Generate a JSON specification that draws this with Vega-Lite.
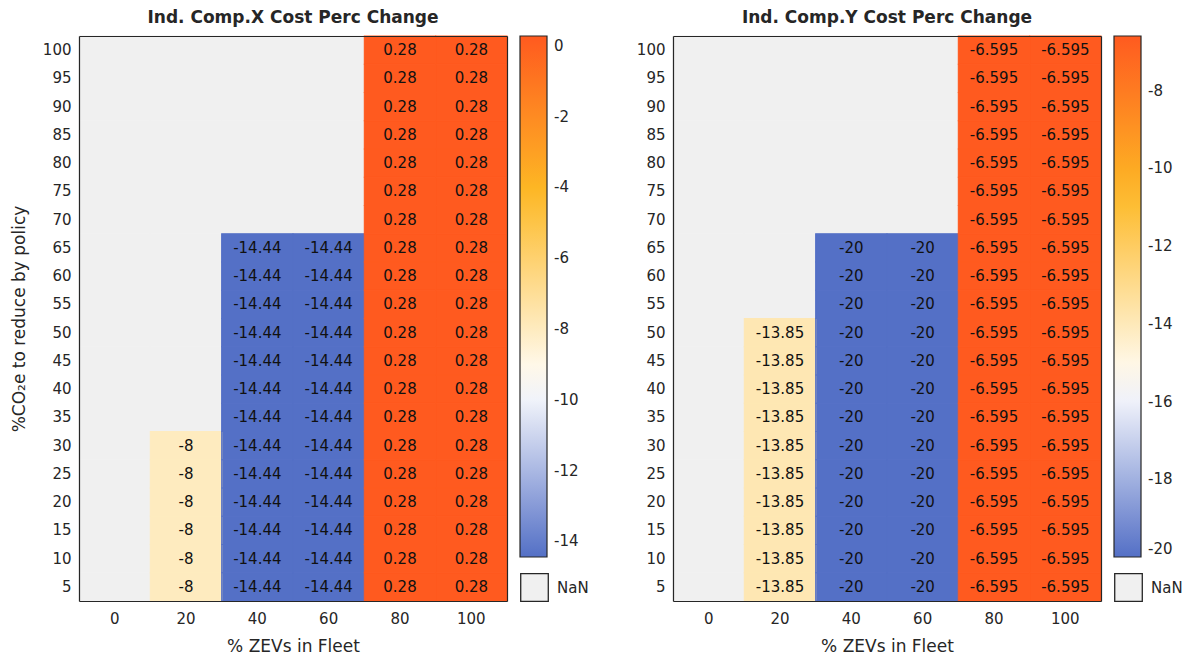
{
  "$schema": "https://vega.github.io/schema/vega-lite/v6.json",
  "padding": {"left": 10, "top": 9, "right": 0, "bottom": 0},
  "background": "white",
  "config": {
    "font": "DejaVu Sans",
    "view": {"stroke": null},
    "axis": {"labelFont": "DejaVu Sans", "labelFontSize": 15, "labelColor": "#262626", "ticks": false, "grid": false, "titleFont": "DejaVu Sans", "titleFontSize": 17, "titleFontWeight": "normal", "titleColor": "#262626"},
    "title": {"font": "DejaVu Sans", "fontSize": 17, "fontWeight": "bold", "color": "#262626", "offset": 8},
    "legend": {"labelFont": "DejaVu Sans", "labelFontSize": 15, "labelColor": "#262626", "padding": 0}
  },
  "datasets": {
    "cells": [
      {"p":"X","x":0,"y":5,"v":null},{"p":"X","x":0,"y":10,"v":null},{"p":"X","x":0,"y":15,"v":null},{"p":"X","x":0,"y":20,"v":null},{"p":"X","x":0,"y":25,"v":null},{"p":"X","x":0,"y":30,"v":null},{"p":"X","x":0,"y":35,"v":null},{"p":"X","x":0,"y":40,"v":null},{"p":"X","x":0,"y":45,"v":null},{"p":"X","x":0,"y":50,"v":null},{"p":"X","x":0,"y":55,"v":null},{"p":"X","x":0,"y":60,"v":null},{"p":"X","x":0,"y":65,"v":null},{"p":"X","x":0,"y":70,"v":null},{"p":"X","x":0,"y":75,"v":null},{"p":"X","x":0,"y":80,"v":null},{"p":"X","x":0,"y":85,"v":null},{"p":"X","x":0,"y":90,"v":null},{"p":"X","x":0,"y":95,"v":null},{"p":"X","x":0,"y":100,"v":null},
      {"p":"X","x":20,"y":5,"v":-8},{"p":"X","x":20,"y":10,"v":-8},{"p":"X","x":20,"y":15,"v":-8},{"p":"X","x":20,"y":20,"v":-8},{"p":"X","x":20,"y":25,"v":-8},{"p":"X","x":20,"y":30,"v":-8},{"p":"X","x":20,"y":35,"v":null},{"p":"X","x":20,"y":40,"v":null},{"p":"X","x":20,"y":45,"v":null},{"p":"X","x":20,"y":50,"v":null},{"p":"X","x":20,"y":55,"v":null},{"p":"X","x":20,"y":60,"v":null},{"p":"X","x":20,"y":65,"v":null},{"p":"X","x":20,"y":70,"v":null},{"p":"X","x":20,"y":75,"v":null},{"p":"X","x":20,"y":80,"v":null},{"p":"X","x":20,"y":85,"v":null},{"p":"X","x":20,"y":90,"v":null},{"p":"X","x":20,"y":95,"v":null},{"p":"X","x":20,"y":100,"v":null},
      {"p":"X","x":40,"y":5,"v":-14.44},{"p":"X","x":40,"y":10,"v":-14.44},{"p":"X","x":40,"y":15,"v":-14.44},{"p":"X","x":40,"y":20,"v":-14.44},{"p":"X","x":40,"y":25,"v":-14.44},{"p":"X","x":40,"y":30,"v":-14.44},{"p":"X","x":40,"y":35,"v":-14.44},{"p":"X","x":40,"y":40,"v":-14.44},{"p":"X","x":40,"y":45,"v":-14.44},{"p":"X","x":40,"y":50,"v":-14.44},{"p":"X","x":40,"y":55,"v":-14.44},{"p":"X","x":40,"y":60,"v":-14.44},{"p":"X","x":40,"y":65,"v":-14.44},{"p":"X","x":40,"y":70,"v":null},{"p":"X","x":40,"y":75,"v":null},{"p":"X","x":40,"y":80,"v":null},{"p":"X","x":40,"y":85,"v":null},{"p":"X","x":40,"y":90,"v":null},{"p":"X","x":40,"y":95,"v":null},{"p":"X","x":40,"y":100,"v":null},
      {"p":"X","x":60,"y":5,"v":-14.44},{"p":"X","x":60,"y":10,"v":-14.44},{"p":"X","x":60,"y":15,"v":-14.44},{"p":"X","x":60,"y":20,"v":-14.44},{"p":"X","x":60,"y":25,"v":-14.44},{"p":"X","x":60,"y":30,"v":-14.44},{"p":"X","x":60,"y":35,"v":-14.44},{"p":"X","x":60,"y":40,"v":-14.44},{"p":"X","x":60,"y":45,"v":-14.44},{"p":"X","x":60,"y":50,"v":-14.44},{"p":"X","x":60,"y":55,"v":-14.44},{"p":"X","x":60,"y":60,"v":-14.44},{"p":"X","x":60,"y":65,"v":-14.44},{"p":"X","x":60,"y":70,"v":null},{"p":"X","x":60,"y":75,"v":null},{"p":"X","x":60,"y":80,"v":null},{"p":"X","x":60,"y":85,"v":null},{"p":"X","x":60,"y":90,"v":null},{"p":"X","x":60,"y":95,"v":null},{"p":"X","x":60,"y":100,"v":null},
      {"p":"X","x":80,"y":5,"v":0.28},{"p":"X","x":80,"y":10,"v":0.28},{"p":"X","x":80,"y":15,"v":0.28},{"p":"X","x":80,"y":20,"v":0.28},{"p":"X","x":80,"y":25,"v":0.28},{"p":"X","x":80,"y":30,"v":0.28},{"p":"X","x":80,"y":35,"v":0.28},{"p":"X","x":80,"y":40,"v":0.28},{"p":"X","x":80,"y":45,"v":0.28},{"p":"X","x":80,"y":50,"v":0.28},{"p":"X","x":80,"y":55,"v":0.28},{"p":"X","x":80,"y":60,"v":0.28},{"p":"X","x":80,"y":65,"v":0.28},{"p":"X","x":80,"y":70,"v":0.28},{"p":"X","x":80,"y":75,"v":0.28},{"p":"X","x":80,"y":80,"v":0.28},{"p":"X","x":80,"y":85,"v":0.28},{"p":"X","x":80,"y":90,"v":0.28},{"p":"X","x":80,"y":95,"v":0.28},{"p":"X","x":80,"y":100,"v":0.28},
      {"p":"X","x":100,"y":5,"v":0.28},{"p":"X","x":100,"y":10,"v":0.28},{"p":"X","x":100,"y":15,"v":0.28},{"p":"X","x":100,"y":20,"v":0.28},{"p":"X","x":100,"y":25,"v":0.28},{"p":"X","x":100,"y":30,"v":0.28},{"p":"X","x":100,"y":35,"v":0.28},{"p":"X","x":100,"y":40,"v":0.28},{"p":"X","x":100,"y":45,"v":0.28},{"p":"X","x":100,"y":50,"v":0.28},{"p":"X","x":100,"y":55,"v":0.28},{"p":"X","x":100,"y":60,"v":0.28},{"p":"X","x":100,"y":65,"v":0.28},{"p":"X","x":100,"y":70,"v":0.28},{"p":"X","x":100,"y":75,"v":0.28},{"p":"X","x":100,"y":80,"v":0.28},{"p":"X","x":100,"y":85,"v":0.28},{"p":"X","x":100,"y":90,"v":0.28},{"p":"X","x":100,"y":95,"v":0.28},{"p":"X","x":100,"y":100,"v":0.28},
      {"p":"Y","x":0,"y":5,"v":null},{"p":"Y","x":0,"y":10,"v":null},{"p":"Y","x":0,"y":15,"v":null},{"p":"Y","x":0,"y":20,"v":null},{"p":"Y","x":0,"y":25,"v":null},{"p":"Y","x":0,"y":30,"v":null},{"p":"Y","x":0,"y":35,"v":null},{"p":"Y","x":0,"y":40,"v":null},{"p":"Y","x":0,"y":45,"v":null},{"p":"Y","x":0,"y":50,"v":null},{"p":"Y","x":0,"y":55,"v":null},{"p":"Y","x":0,"y":60,"v":null},{"p":"Y","x":0,"y":65,"v":null},{"p":"Y","x":0,"y":70,"v":null},{"p":"Y","x":0,"y":75,"v":null},{"p":"Y","x":0,"y":80,"v":null},{"p":"Y","x":0,"y":85,"v":null},{"p":"Y","x":0,"y":90,"v":null},{"p":"Y","x":0,"y":95,"v":null},{"p":"Y","x":0,"y":100,"v":null},
      {"p":"Y","x":20,"y":5,"v":-13.85},{"p":"Y","x":20,"y":10,"v":-13.85},{"p":"Y","x":20,"y":15,"v":-13.85},{"p":"Y","x":20,"y":20,"v":-13.85},{"p":"Y","x":20,"y":25,"v":-13.85},{"p":"Y","x":20,"y":30,"v":-13.85},{"p":"Y","x":20,"y":35,"v":-13.85},{"p":"Y","x":20,"y":40,"v":-13.85},{"p":"Y","x":20,"y":45,"v":-13.85},{"p":"Y","x":20,"y":50,"v":-13.85},{"p":"Y","x":20,"y":55,"v":null},{"p":"Y","x":20,"y":60,"v":null},{"p":"Y","x":20,"y":65,"v":null},{"p":"Y","x":20,"y":70,"v":null},{"p":"Y","x":20,"y":75,"v":null},{"p":"Y","x":20,"y":80,"v":null},{"p":"Y","x":20,"y":85,"v":null},{"p":"Y","x":20,"y":90,"v":null},{"p":"Y","x":20,"y":95,"v":null},{"p":"Y","x":20,"y":100,"v":null},
      {"p":"Y","x":40,"y":5,"v":-20},{"p":"Y","x":40,"y":10,"v":-20},{"p":"Y","x":40,"y":15,"v":-20},{"p":"Y","x":40,"y":20,"v":-20},{"p":"Y","x":40,"y":25,"v":-20},{"p":"Y","x":40,"y":30,"v":-20},{"p":"Y","x":40,"y":35,"v":-20},{"p":"Y","x":40,"y":40,"v":-20},{"p":"Y","x":40,"y":45,"v":-20},{"p":"Y","x":40,"y":50,"v":-20},{"p":"Y","x":40,"y":55,"v":-20},{"p":"Y","x":40,"y":60,"v":-20},{"p":"Y","x":40,"y":65,"v":-20},{"p":"Y","x":40,"y":70,"v":null},{"p":"Y","x":40,"y":75,"v":null},{"p":"Y","x":40,"y":80,"v":null},{"p":"Y","x":40,"y":85,"v":null},{"p":"Y","x":40,"y":90,"v":null},{"p":"Y","x":40,"y":95,"v":null},{"p":"Y","x":40,"y":100,"v":null},
      {"p":"Y","x":60,"y":5,"v":-20},{"p":"Y","x":60,"y":10,"v":-20},{"p":"Y","x":60,"y":15,"v":-20},{"p":"Y","x":60,"y":20,"v":-20},{"p":"Y","x":60,"y":25,"v":-20},{"p":"Y","x":60,"y":30,"v":-20},{"p":"Y","x":60,"y":35,"v":-20},{"p":"Y","x":60,"y":40,"v":-20},{"p":"Y","x":60,"y":45,"v":-20},{"p":"Y","x":60,"y":50,"v":-20},{"p":"Y","x":60,"y":55,"v":-20},{"p":"Y","x":60,"y":60,"v":-20},{"p":"Y","x":60,"y":65,"v":-20},{"p":"Y","x":60,"y":70,"v":null},{"p":"Y","x":60,"y":75,"v":null},{"p":"Y","x":60,"y":80,"v":null},{"p":"Y","x":60,"y":85,"v":null},{"p":"Y","x":60,"y":90,"v":null},{"p":"Y","x":60,"y":95,"v":null},{"p":"Y","x":60,"y":100,"v":null},
      {"p":"Y","x":80,"y":5,"v":-6.595},{"p":"Y","x":80,"y":10,"v":-6.595},{"p":"Y","x":80,"y":15,"v":-6.595},{"p":"Y","x":80,"y":20,"v":-6.595},{"p":"Y","x":80,"y":25,"v":-6.595},{"p":"Y","x":80,"y":30,"v":-6.595},{"p":"Y","x":80,"y":35,"v":-6.595},{"p":"Y","x":80,"y":40,"v":-6.595},{"p":"Y","x":80,"y":45,"v":-6.595},{"p":"Y","x":80,"y":50,"v":-6.595},{"p":"Y","x":80,"y":55,"v":-6.595},{"p":"Y","x":80,"y":60,"v":-6.595},{"p":"Y","x":80,"y":65,"v":-6.595},{"p":"Y","x":80,"y":70,"v":-6.595},{"p":"Y","x":80,"y":75,"v":-6.595},{"p":"Y","x":80,"y":80,"v":-6.595},{"p":"Y","x":80,"y":85,"v":-6.595},{"p":"Y","x":80,"y":90,"v":-6.595},{"p":"Y","x":80,"y":95,"v":-6.595},{"p":"Y","x":80,"y":100,"v":-6.595},
      {"p":"Y","x":100,"y":5,"v":-6.595},{"p":"Y","x":100,"y":10,"v":-6.595},{"p":"Y","x":100,"y":15,"v":-6.595},{"p":"Y","x":100,"y":20,"v":-6.595},{"p":"Y","x":100,"y":25,"v":-6.595},{"p":"Y","x":100,"y":30,"v":-6.595},{"p":"Y","x":100,"y":35,"v":-6.595},{"p":"Y","x":100,"y":40,"v":-6.595},{"p":"Y","x":100,"y":45,"v":-6.595},{"p":"Y","x":100,"y":50,"v":-6.595},{"p":"Y","x":100,"y":55,"v":-6.595},{"p":"Y","x":100,"y":60,"v":-6.595},{"p":"Y","x":100,"y":65,"v":-6.595},{"p":"Y","x":100,"y":70,"v":-6.595},{"p":"Y","x":100,"y":75,"v":-6.595},{"p":"Y","x":100,"y":80,"v":-6.595},{"p":"Y","x":100,"y":85,"v":-6.595},{"p":"Y","x":100,"y":90,"v":-6.595},{"p":"Y","x":100,"y":95,"v":-6.595},{"p":"Y","x":100,"y":100,"v":-6.595}
    ]
  },
  "spacing": 47,
  "resolve": {"scale": {"color": "independent", "fill": "independent", "stroke": "independent", "x": "independent", "y": "independent"}, "legend": {"color": "independent", "fill": "independent"}},
  "hconcat": [
    {
      "title": "Ind. Comp.X Cost Perc Change",
      "width": 428,
      "height": 565,
      "data": {"name": "cells"},
      "transform": [{"filter": "datum.p === 'X'"}],
      "layer": [
        {
          "transform": [{"filter": "datum.v === null"}],
          "mark": {"type": "rect", "stroke": "#f0f0f0", "strokeWidth": 1},
          "encoding": {
            "x": {"field": "x", "type": "ordinal", "sort": "ascending", "scale": {"paddingInner": 0, "paddingOuter": 0}, "axis": {"orient": "bottom", "title": "% ZEVs in Fleet", "labelAngle": 0, "labelPadding": 10, "titlePadding": 12, "domain": true, "domainColor": "#262626", "domainWidth": 1.2, "zindex": 2}},
            "y": {"field": "y", "type": "ordinal", "sort": "descending", "scale": {"paddingInner": 0, "paddingOuter": 0}, "axis": {"orient": "left", "title": "%CO₂e to reduce by policy", "labelPadding": 8, "titlePadding": 14, "domain": true, "domainColor": "#262626", "domainWidth": 1.2, "zindex": 2}},
            "fill": {"datum": "NaN", "type": "nominal", "scale": {"range": ["#f0f0f0"]}, "legend": {"title": null, "orient": "none", "legendX": 441, "legendY": 537, "symbolType": "square", "symbolSize": 760, "symbolStrokeColor": "#262626", "symbolStrokeWidth": 1.3, "labelOffset": 8}}
          }
        },
        {
          "transform": [{"filter": "isValid(datum.v)"}],
          "mark": {"type": "rect"},
          "encoding": {
            "x": {"field": "x", "type": "ordinal", "sort": "ascending", "axis": null},
            "y": {"field": "y", "type": "ordinal", "sort": "descending", "axis": null},
            "color": {"field": "v", "type": "quantitative",
              "scale": {"domain": [-14.44, -9.58, -4.14, 0.28], "range": ["#5470c6", "#ffffff", "#fdb924", "#ff5a1f"], "interpolate": "rgb"},
              "legend": {"type": "gradient", "direction": "vertical", "title": null, "orient": "none", "legendX": 441, "legendY": 0, "gradientLength": 521, "gradientThickness": 27, "gradientStrokeColor": "#262626", "gradientStrokeWidth": 1.2, "values": [-14, -12, -10, -8, -6, -4, -2, 0], "labelExpr": "'' + datum.value", "labelOverlap": false, "labelOffset": 7}
            }
          }
        },
        {
          "transform": [{"filter": "isValid(datum.v)"}],
          "mark": {"type": "rect", "fill": null, "strokeWidth": 1.1},
          "encoding": {
            "x": {"field": "x", "type": "ordinal", "sort": "ascending", "axis": null},
            "y": {"field": "y", "type": "ordinal", "sort": "descending", "axis": null},
            "stroke": {"field": "v", "type": "quantitative",
              "scale": {"domain": [-14.4401, -9.58, -4.14, 0.2801], "range": ["#5470c6", "#ffffff", "#fdb924", "#ff5a1f"], "interpolate": "rgb"},
              "legend": null
            }
          }
        },
        {
          "transform": [{"filter": "isValid(datum.v)"}],
          "mark": {"type": "text", "fontSize": 15, "color": "#111111", "font": "DejaVu Sans"},
          "encoding": {
            "text": {"field": "v", "type": "nominal"},
            "x": {"field": "x", "type": "ordinal", "sort": "ascending", "axis": {"orient": "top", "labels": false, "title": null, "domain": true, "domainColor": "#262626", "domainWidth": 1.2, "zindex": 2}},
            "y": {"field": "y", "type": "ordinal", "sort": "descending", "axis": {"orient": "right", "labels": false, "title": null, "domain": true, "domainColor": "#262626", "domainWidth": 1.2, "zindex": 2}}
          }
        }
      ]
    },
    {
      "title": "Ind. Comp.Y Cost Perc Change",
      "width": 428,
      "height": 565,
      "data": {"name": "cells"},
      "transform": [{"filter": "datum.p === 'Y'"}],
      "layer": [
        {
          "transform": [{"filter": "datum.v === null"}],
          "mark": {"type": "rect", "stroke": "#f0f0f0", "strokeWidth": 1},
          "encoding": {
            "x": {"field": "x", "type": "ordinal", "sort": "ascending", "scale": {"paddingInner": 0, "paddingOuter": 0}, "axis": {"orient": "bottom", "title": "% ZEVs in Fleet", "labelAngle": 0, "labelPadding": 10, "titlePadding": 12, "domain": true, "domainColor": "#262626", "domainWidth": 1.2, "zindex": 2}},
            "y": {"field": "y", "type": "ordinal", "sort": "descending", "scale": {"paddingInner": 0, "paddingOuter": 0}, "axis": {"orient": "left", "title": null, "labelPadding": 8, "domain": true, "domainColor": "#262626", "domainWidth": 1.2, "zindex": 2}},
            "fill": {"datum": "NaN", "type": "nominal", "scale": {"range": ["#f0f0f0"]}, "legend": {"title": null, "orient": "none", "legendX": 441, "legendY": 537, "symbolType": "square", "symbolSize": 760, "symbolStrokeColor": "#262626", "symbolStrokeWidth": 1.3, "labelOffset": 8}}
          }
        },
        {
          "transform": [{"filter": "isValid(datum.v)"}],
          "mark": {"type": "rect"},
          "encoding": {
            "x": {"field": "x", "type": "ordinal", "sort": "ascending", "axis": null},
            "y": {"field": "y", "type": "ordinal", "sort": "descending", "axis": null},
            "color": {"field": "v", "type": "quantitative",
              "scale": {"domain": [-20, -15.58, -10.62, -6.595], "range": ["#5470c6", "#ffffff", "#fdb924", "#ff5a1f"], "interpolate": "rgb"},
              "legend": {"type": "gradient", "direction": "vertical", "title": null, "orient": "none", "legendX": 441, "legendY": 0, "gradientLength": 521, "gradientThickness": 27, "gradientStrokeColor": "#262626", "gradientStrokeWidth": 1.2, "values": [-20, -18, -16, -14, -12, -10, -8], "labelExpr": "'' + datum.value", "labelOverlap": false, "labelOffset": 7}
            }
          }
        },
        {
          "transform": [{"filter": "isValid(datum.v)"}],
          "mark": {"type": "rect", "fill": null, "strokeWidth": 1.1},
          "encoding": {
            "x": {"field": "x", "type": "ordinal", "sort": "ascending", "axis": null},
            "y": {"field": "y", "type": "ordinal", "sort": "descending", "axis": null},
            "stroke": {"field": "v", "type": "quantitative",
              "scale": {"domain": [-20.0001, -15.58, -10.62, -6.5949], "range": ["#5470c6", "#ffffff", "#fdb924", "#ff5a1f"], "interpolate": "rgb"},
              "legend": null
            }
          }
        },
        {
          "transform": [{"filter": "isValid(datum.v)"}],
          "mark": {"type": "text", "fontSize": 15, "color": "#111111", "font": "DejaVu Sans"},
          "encoding": {
            "text": {"field": "v", "type": "nominal"},
            "x": {"field": "x", "type": "ordinal", "sort": "ascending", "axis": {"orient": "top", "labels": false, "title": null, "domain": true, "domainColor": "#262626", "domainWidth": 1.2, "zindex": 2}},
            "y": {"field": "y", "type": "ordinal", "sort": "descending", "axis": {"orient": "right", "labels": false, "title": null, "domain": true, "domainColor": "#262626", "domainWidth": 1.2, "zindex": 2}}
          }
        }
      ]
    }
  ]
}
